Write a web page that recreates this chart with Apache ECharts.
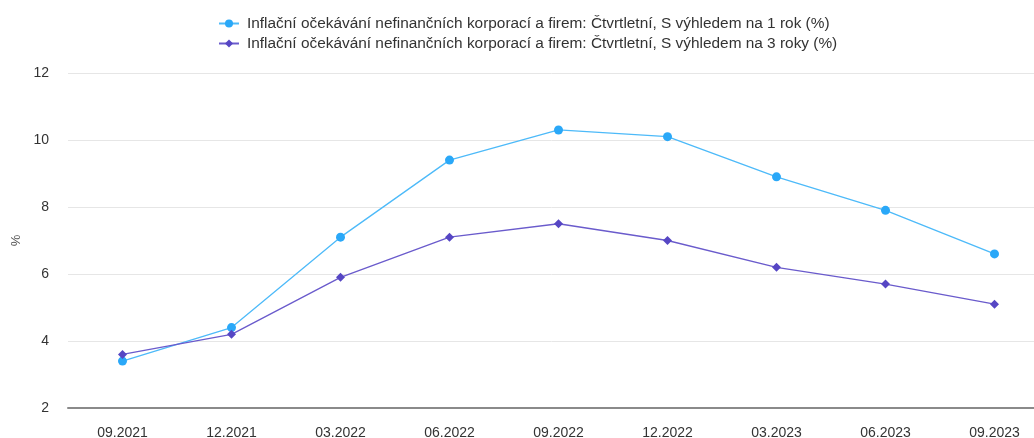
<!DOCTYPE html>
<html>
<head>
<meta charset="utf-8">
<script src="https://cdn.jsdelivr.net/npm/echarts@6/dist/echarts.min.js"></script>
<style>
  html, body { margin: 0; padding: 0; background: #ffffff; overflow: hidden; }
  #chart { width: 1034px; height: 438px; }
</style>
</head>
<body>
<div id="chart"></div>
<script>
// Quarterly inflation expectations of non-financial corporations (%)
const categories = ['09.2021', '12.2021', '03.2022', '06.2022', '09.2022', '12.2022', '03.2023', '06.2023', '09.2023'];
const oneYearAhead = [3.4, 4.4, 7.1, 9.4, 10.3, 10.1, 8.9, 7.9, 6.6];
const threeYearsAhead = [3.6, 4.2, 5.9, 7.1, 7.5, 7.0, 6.2, 5.7, 5.1];
const seriesNames = [
  'Inflační očekávání nefinančních korporací a firem: Čtvrtletní, S výhledem na 1 rok (%)',
  'Inflační očekávání nefinančních korporací a firem: Čtvrtletní, S výhledem na 3 roky (%)'
];
const yTicks = { min: 2, max: 12, interval: 2 };

const font = '"Liberation Sans", Arial, Helvetica, sans-serif';
const chart = echarts.init(document.getElementById('chart'), null, { renderer: 'canvas' });

chart.setOption({
  animation: false,
  backgroundColor: '#ffffff',
  textStyle: { fontFamily: font },
  legend: {
    orient: 'vertical',
    left: 213,
    top: 11,
    itemGap: 5,
    itemWidth: 20,
    itemHeight: 10,
    textStyle: { fontFamily: font, fontSize: 15.4, color: '#333333', padding: [0, 0, 0, 3] },
    data: seriesNames
  },
  // plot area spans past the right edge, so the last band is clipped
  grid: { left: 68, top: 73, width: 981, height: 335, containLabel: false, outerBoundsMode: 'none' },
  xAxis: {
    type: 'category',
    data: categories,
    boundaryGap: true,
    axisLine: { lineStyle: { color: '#8a8a8a', width: 2 } },
    axisTick: { show: false },
    axisLabel: { fontFamily: font, fontSize: 14, color: '#333333', margin: 18 }
  },
  yAxis: {
    type: 'value',
    min: yTicks.min,
    max: yTicks.max,
    interval: yTicks.interval,
    name: '%',
    nameLocation: 'middle',
    nameGap: 44,
    nameRotate: 90,
    nameTextStyle: { fontFamily: font, fontSize: 13, color: '#555555' },
    axisLine: { show: false },
    axisTick: { show: false },
    axisLabel: { fontFamily: font, fontSize: 14, color: '#333333', margin: 19 },
    splitLine: { lineStyle: { color: '#e6e6e6', width: 1 } }
  },
  series: [
    {
      name: seriesNames[0],
      type: 'line',
      data: oneYearAhead,
      symbol: 'circle',
      symbolSize: 9,
      itemStyle: { color: '#2aa8f8' },
      lineStyle: { color: '#4dbaf9', width: 1.3 }
    },
    {
      name: seriesNames[1],
      type: 'line',
      data: threeYearsAhead,
      symbol: 'diamond',
      symbolSize: 9,
      itemStyle: { color: '#5646c4' },
      lineStyle: { color: '#6a5bcc', width: 1.3 }
    }
  ]
});
</script>
</body>
</html>
